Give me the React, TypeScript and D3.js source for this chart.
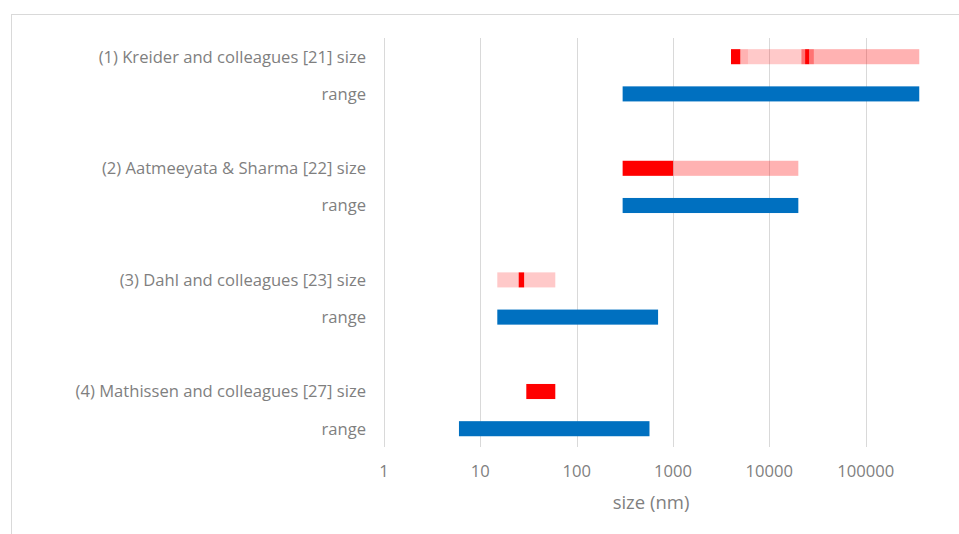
import React from 'react';
import * as d3 from 'd3';

const WIDTH = 959;
const HEIGHT = 534;

const rowLabels = [
  '(1) Kreider and colleagues [21] size',
  'range',
  '',
  '(2) Aatmeeyata & Sharma [22] size',
  'range',
  '',
  '(3) Dahl and colleagues [23] size',
  'range',
  '',
  '(4) Mathissen and colleagues [27] size',
  'range'
];

// size distribution pieces per study: [from nm, to nm, share of red]
const kreiderSize = [
  [4000, 5000, 1],
  [5000, 6000, 0.3],
  [6000, 21500, 0.21],
  [21500, 23500, 0.55],
  [23500, 26000, 1],
  [26000, 29000, 0.55],
  [29000, 360000, 0.3]
];
const aatmeeyataSize = [
  [300, 1000, 1],
  [1000, 20000, 0.3]
];
const dahlSize = [
  [15, 25, 0.21],
  [25, 28.5, 1],
  [28.5, 60, 0.21]
];
const mathissenSize = [
  [30, 60, 1]
];

const studyRanges = [
  [300, 360000],
  [300, 20000],
  [15, 700],
  [6, 570]
];

const sizeRowIndex = [0, 3, 6, 9];
const rangeRowIndex = [1, 4, 7, 10];
const sizeData = [kreiderSize, aatmeeyataSize, dahlSize, mathissenSize];

const gridValues = [1, 10, 100, 1000, 10000, 100000, 1000000];
const tickLabels = ['1', '10', '100', '1000', '10000', '100000'];

const FONT = "'Open Sans', 'DejaVu Sans', sans-serif";
const TEXT = '#7f7f7f';

export default function App() {
  const x = d3.scaleLog().domain([1, 1000000]).range([384, 962]);
  const y = d3
    .scaleBand<number>()
    .domain(d3.range(rowLabels.length))
    .range([38, 447.4])
    .paddingInner(0.595)
    .paddingOuter(0.3);

  const band = y.bandwidth();

  return (
    <div style={{position: 'fixed', left: 0, top: 0}}>
      <svg width={WIDTH} height={HEIGHT} style={{display: 'block', background: '#fff'}}>
        <rect x={11.5} y={14.5} width={WIDTH + 10} height={HEIGHT + 10}
          fill="#fff" stroke="#d9d9d9" strokeWidth={1} />

        {gridValues.map((t) => (
          <line key={t} x1={Math.round(x(t)) + 0.5} x2={Math.round(x(t)) + 0.5}
            y1={38} y2={447} stroke="#d9d9d9" strokeWidth={1} />
        ))}

        {sizeData.map((pieces, i) =>
          pieces.map((p, j) => (
            <rect key={`s${i}-${j}`} x={x(p[0])} y={y(sizeRowIndex[i])}
              width={x(p[1]) - x(p[0])} height={band}
              fill="#ff0000" fillOpacity={p[2]} />
          ))
        )}

        {studyRanges.map((r, i) => (
          <rect key={`r${i}`} x={x(r[0])} y={y(rangeRowIndex[i])}
            width={x(r[1]) - x(r[0])} height={band} fill="#0070c0" />
        ))}

        {rowLabels.map((label, i) => (
          <text key={`l${i}`} x={366} y={(y(i) as number) + band / 2}
            dy="0.35em" textAnchor="end" fontFamily={FONT} fontSize={16.6}
            fill={TEXT}>{label}</text>
        ))}

        {tickLabels.map((t, i) => (
          <text key={`t${i}`} x={x(gridValues[i])} y={471} dy="0.35em" textAnchor="middle"
            fontFamily={FONT} fontSize={16.6} fill={TEXT}>{t}</text>
        ))}

        <text x={651} y={503} dy="0.35em" textAnchor="middle"
          fontFamily={FONT} fontSize={18.5} fill={TEXT}>size (nm)</text>
      </svg>
    </div>
  );
}
